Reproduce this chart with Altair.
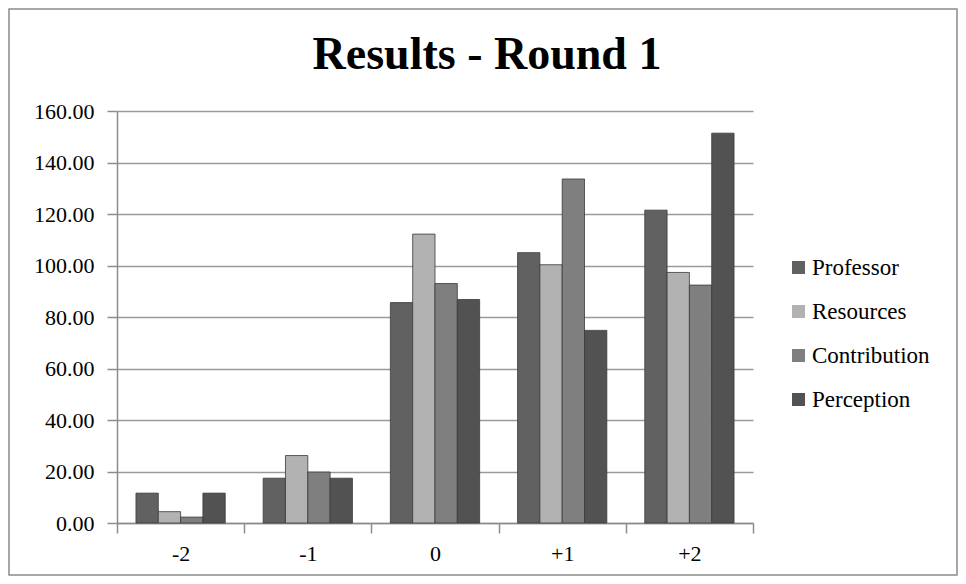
import altair as alt
import pandas as pd

title_text = ["Results - Round 1"]
categories = ["-2", "-1", "0", "+1", "+2"]
series = ["Professor", "Resources", "Contribution", "Perception"]
professor = [11.6, 17.4, 85.6, 105.0, 121.5]
resources = [4.4, 26.2, 112.2, 100.3, 97.3]
contribution = [2.3, 19.8, 93.0, 133.6, 92.4]
perception = [11.6, 17.4, 86.8, 74.8, 151.4]
colors = ["#616161", "#b2b2b2", "#7f7f7f", "#525252"]

rows = []
for name, vals in zip(series, [professor, resources, contribution, perception]):
    for c, v in zip(categories, vals):
        rows.append({"cat": c, "series": name, "value": v})
df = pd.DataFrame(rows)

FONT = "Liberation Serif"

bars = alt.Chart(df).mark_bar(stroke="#3a3a3a", strokeWidth=0.8).encode(
    x=alt.X("cat:N", sort=categories, title=None,
            scale=alt.Scale(paddingInner=0, paddingOuter=0),
            axis=alt.Axis(labelAngle=0, tickBand="extent", labelFont=FONT,
                          labelFontSize=22, labelColor="#000", domainColor="#8c8c8c",
                          domainWidth=1.5, tickColor="#8c8c8c", tickWidth=1.5,
                          tickSize=10, labelPadding=10, grid=False)),
    xOffset=alt.XOffset("series:N", sort=series,
                        scale=alt.Scale(paddingOuter=0.85, paddingInner=0)),
    y=alt.Y("value:Q", title=None,
            scale=alt.Scale(domain=[0, 160], nice=False),
            axis=alt.Axis(values=list(range(0, 161, 20)), format=".2f",
                          labelFont=FONT, labelFontSize=22, labelColor="#000",
                          domainColor="#8c8c8c", domainWidth=1.5,
                          tickColor="#8c8c8c", tickWidth=1.5, tickSize=10,
                          labelPadding=13, gridColor="#9a9a9a", gridWidth=1.5)),
    color=alt.Color("series:N", sort=series,
                    scale=alt.Scale(domain=series, range=colors),
                    legend=alt.Legend(title=None, orient="none", legendX=670, legendY=145,
                                      symbolType="square", symbolSize=170,
                                      symbolStrokeWidth=0, labelFont=FONT,
                                      labelFontSize=23, labelColor="#000",
                                      rowPadding=20, labelOffset=2)),
)

frame = alt.Chart(pd.DataFrame({"a": [0]})).mark_rect(
    fill=None, stroke="#8a8a8a", strokeWidth=1.5
).encode(
    x=alt.value(-108), x2=alt.value(840), y=alt.value(-102), y2=alt.value(464)
)

title = alt.Chart(pd.DataFrame({"t": title_text})).mark_text(
    font=FONT, fontSize=46, fontWeight="bold", color="#000",
    align="center", baseline="alphabetic"
).encode(text="t:N", x=alt.value(370), y=alt.value(-42))

chart = alt.layer(frame, title, bars).properties(
    width=636, height=412,
    padding={"left": 109, "top": 103, "right": 205, "bottom": 53},
    autosize=alt.AutoSizeParams(type="none"),
    background="white",
).configure_view(stroke=None)

chart.save("out.html", embed_options={"renderer": "svg", "actions": False})
